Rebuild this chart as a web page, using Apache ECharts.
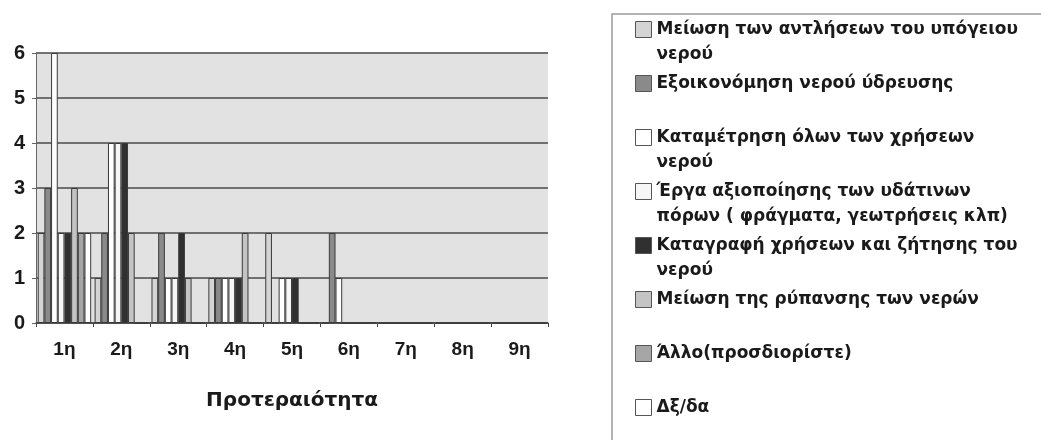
<!DOCTYPE html>
<html>
<head>
<meta charset="utf-8">
<script src="https://cdn.jsdelivr.net/npm/echarts@6/dist/echarts.min.js"></script>
<style>
  html, body { margin: 0; padding: 0; background: #ffffff; }
  #chart { width: 1041px; height: 440px; }
</style>
</head>
<body>
<div id="chart"></div>
<script>
// ---- Data ----
const categories = ['1η', '2η', '3η', '4η', '5η', '6η', '7η', '8η', '9η'];
const yTicks = [0, 1, 2, 3, 4, 5, 6];

const seriesNames = [
  'Μείωση των αντλήσεων του υπόγειου νερού',
  'Εξοικονόμηση νερού ύδρευσης',
  'Καταμέτρηση όλων των χρήσεων νερού',
  'Έργα αξιοποίησης των υδάτινων πόρων ( φράγματα, γεωτρήσεις κλπ)',
  'Καταγραφή χρήσεων και ζήτησης του νερού',
  'Μείωση της ρύπανσης των νερών',
  'Άλλο(προσδιορίστε)',
  'Δξ/δα'
];
const legendLines = [
  ['Μείωση των αντλήσεων του υπόγειου', 'νερού'],
  ['Εξοικονόμηση νερού ύδρευσης', ' '],
  ['Καταμέτρηση όλων των χρήσεων', 'νερού'],
  ['Έργα αξιοποίησης των υδάτινων', 'πόρων ( φράγματα, γεωτρήσεις κλπ)'],
  ['Καταγραφή χρήσεων και ζήτησης του', 'νερού'],
  ['Μείωση της ρύπανσης των νερών', ' '],
  ['Άλλο(προσδιορίστε)', ' '],
  ['Δξ/δα', ' ']
];

const reductionPumping = [2, 1, 1, 1, 2, 0, 0, 0, 0];
const savingSupply     = [3, 2, 2, 1, 0, 2, 0, 0, 0];
const meteringUses     = [6, 4, 1, 1, 1, 1, 0, 0, 0];
const waterWorks       = [2, 4, 1, 1, 1, 0, 0, 0, 0];
const recordingDemand  = [2, 4, 2, 1, 1, 0, 0, 0, 0];
const pollutionCut     = [3, 2, 1, 2, 0, 0, 0, 0, 0];
const otherSpecify     = [2, 0, 0, 0, 0, 0, 0, 0, 0];
const dontKnow         = [2, 0, 0, 0, 0, 0, 0, 0, 0];

const seriesValues = [reductionPumping, savingSupply, meteringUses, waterWorks,
                      recordingDemand, pollutionCut, otherSpecify, dontKnow];
const seriesColors = ['#d4d4d4', '#8a8a8a', '#ffffff', '#f6f6f6',
                      '#303030', '#c4c4c4', '#a6a6a6', '#ffffff'];

// ---- Chart ----
const chart = echarts.init(document.getElementById('chart'), null, { renderer: 'canvas' });

const wrapped = {};
seriesNames.forEach((n, i) => { wrapped[n] = legendLines[i].join('\n'); });

const series = seriesNames.map((name, i) => ({
  name: name,
  type: 'bar',
  data: seriesValues[i],
  barGap: '0%',
  barCategoryGap: '6%',
  itemStyle: {
    color: seriesColors[i],
    borderColor: '#3a3a3a',
    borderWidth: 1
  },
  emphasis: { disabled: true }
}));

const option = {
  animation: false,
  backgroundColor: '#ffffff',
  textStyle: { fontFamily: 'Liberation Sans, Arial, sans-serif' },
  grid: {
    left: 36, right: 493, top: 53, bottom: 117,
    show: true, backgroundColor: '#e2e2e2', borderWidth: 0
  },
  xAxis: {
    type: 'category',
    data: categories,
    name: 'Προτεραιότητα',
    nameLocation: 'middle',
    nameGap: 68,
    nameTextStyle: {
      fontFamily: 'DejaVu Sans', fontWeight: 'bold', fontSize: 20, color: '#1a1a1a'
    },
    axisLine: { show: true, lineStyle: { color: '#444', width: 1.5 } },
    axisTick: { show: true, length: 4, alignWithLabel: false, lineStyle: { color: '#444' } },
    axisLabel: {
      margin: 17,
      fontFamily: 'Liberation Sans', fontWeight: 'bold', fontSize: 19, color: '#1a1a1a'
    },
    splitLine: { show: false }
  },
  yAxis: {
    type: 'value',
    min: yTicks[0],
    max: yTicks[yTicks.length - 1],
    interval: 1,
    axisLine: { show: true, lineStyle: { color: '#666', width: 1 } },
    axisTick: { show: true, length: 4, lineStyle: { color: '#666' } },
    axisLabel: {
      margin: 11,
      fontFamily: 'Liberation Sans', fontWeight: 'bold', fontSize: 20, color: '#1a1a1a'
    },
    splitLine: { show: true, lineStyle: { color: '#4a4a4a', width: 1.5 } }
  },
  legend: {
    orient: 'vertical',
    left: 635,
    top: 17,
    height: 700,
    padding: 0,
    itemGap: 4,
    itemWidth: 16,
    itemHeight: 41,
    icon: 'path://M0,0H16V16H0Z M0,41L0,41',
    itemStyle: { borderWidth: 1, borderColor: '#555' },
    selectedMode: false,
    formatter: function (name) { return wrapped[name]; },
    textStyle: {
      fontFamily: 'DejaVu Sans', fontWeight: 'bold', fontSize: 17, lineHeight: 25, color: '#1a1a1a'
    },
    data: seriesNames
  },
  graphic: [{
    type: 'rect',
    shape: { x: 612, y: 14, width: 460, height: 460 },
    style: { fill: 'none', stroke: '#9a9a9a', lineWidth: 1.5 },
    silent: true
  }],
  series: series
};

chart.setOption(option);
</script>
</body>
</html>
